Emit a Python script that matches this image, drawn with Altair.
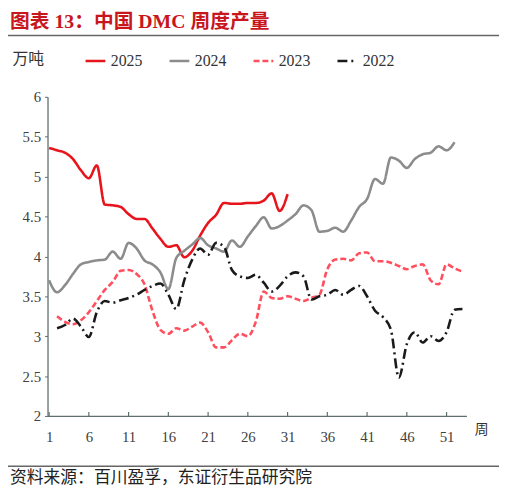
import altair as alt
import pandas as pd

# ---- data ----
years = ["2025", "2024", "2023", "2022"]
colors = ["#E8141C", "#8C8C8C", "#FF4F5E", "#1A1A1A"]
dashes = [[1, 0], [1, 0], [6, 3], [10, 4, 2, 4]]

weeks_2025 = list(range(1, 32))
v2025 = [5.36, 5.33, 5.30, 5.22, 5.08, 4.98, 5.14, 4.65, 4.64, 4.62,
         4.53, 4.47, 4.47, 4.35, 4.22, 4.12, 4.14, 3.99, 4.07, 4.26,
         4.42, 4.52, 4.67, 4.66, 4.66, 4.67, 4.67, 4.70, 4.79, 4.57,
         4.78]

weeks_2024 = list(range(1, 53))
v2024 = [3.70, 3.55, 3.64, 3.78, 3.90, 3.93, 3.95, 3.96, 4.06, 3.97,
         4.17, 4.10, 3.95, 3.90, 3.80, 3.59, 3.98, 4.07, 4.15, 4.23,
         4.14, 4.10, 4.06, 4.20, 4.12, 4.25, 4.38, 4.49, 4.35, 4.38,
         4.45, 4.53, 4.64, 4.58, 4.31, 4.32, 4.36, 4.31, 4.45, 4.62,
         4.72, 4.97, 4.91, 5.24, 5.20, 5.11, 5.22, 5.28, 5.30, 5.38,
         5.33, 5.43]

weeks_2023 = list(range(2, 54))
v2023 = [3.25, 3.18, 3.15, 3.20, 3.30, 3.44, 3.58, 3.68, 3.82, 3.83,
         3.78, 3.65, 3.32, 3.08, 3.03, 3.10, 3.07, 3.12, 3.17, 3.05,
         2.86, 2.86, 2.95, 3.03, 3.00, 3.18, 3.56, 3.48, 3.47, 3.50,
         3.47, 3.44, 3.48, 3.52, 3.84, 3.96, 3.97, 3.95, 4.04, 4.05,
         3.94, 3.94, 3.92, 3.88, 3.84, 3.88, 3.90, 3.70, 3.65, 3.90,
         3.85, 3.81]

weeks_2022 = list(range(2, 54))
v2022 = [3.10, 3.14, 3.22, 3.12, 2.99, 3.30, 3.44, 3.42, 3.45, 3.48,
         3.52, 3.58, 3.63, 3.66, 3.52, 3.34, 3.70, 3.96, 4.10, 4.02,
         4.17, 4.12, 3.83, 3.75, 3.73, 3.77, 3.67, 3.56, 3.63, 3.75,
         3.80, 3.75, 3.46, 3.50, 3.52, 3.58, 3.52, 3.58, 3.63, 3.50,
         3.32, 3.24, 3.08, 2.48, 2.90, 3.05, 2.92, 3.00, 2.94, 3.05,
         3.33, 3.34]

x_ticks = [1, 6, 11, 16, 21, 26, 31, 36, 41, 46, 51]
y_ticks = [2, 2.5, 3, 3.5, 4, 4.5, 5, 5.5, 6]

title_text = "图表 13：中国 DMC 周度产量"
source_text = "资料来源：百川盈孚，东证衍生品研究院"

# ---- build table ----
rows = []
for yr, wks, vals in [("2025", weeks_2025, v2025), ("2024", weeks_2024, v2024),
                      ("2023", weeks_2023, v2023), ("2022", weeks_2022, v2022)]:
    for w, v in zip(wks, vals):
        rows.append({"year": yr, "week": w, "value": v})
df = pd.DataFrame(rows)

SERIF = "Liberation Serif, Noto Sans CJK SC"
CJK = "Noto Sans CJK SC"
AXIS_COLOR = "#5E6E6E"

xscale = alt.Scale(domain=[0.8, 53.5], nice=False, zero=False)
yscale = alt.Scale(domain=[2, 6], nice=False, zero=False)

legend = alt.Legend(
    title=None, orient="none", legendX=37, legendY=-48,
    direction="horizontal", columns=4, symbolType="stroke",
    symbolSize=400, symbolStrokeWidth=2.6, labelFont=SERIF,
    labelFontSize=16, labelColor="#333333", labelOffset=4,
    columnPadding=22,
)

lines = alt.Chart(df).mark_line(strokeWidth=2.6, interpolate="monotone").encode(
    x=alt.X("week:Q", scale=xscale,
            axis=alt.Axis(values=x_ticks, title="周", titleAngle=0,
                          titleX=439, titleY=14, titleAlign="center",
                          titleBaseline="middle", titleFont=CJK,
                          titleFontSize=14, titleFontWeight="normal",
                          titleColor="#333333", ticks=False, grid=False,
                          domainColor=AXIS_COLOR, domainWidth=1.3,
                          labelFont=SERIF, labelFontSize=15,
                          labelColor="#404040", labelPadding=14)),
    y=alt.Y("value:Q", scale=yscale,
            axis=alt.Axis(values=y_ticks, format="~g", title="万吨",
                          titleAngle=0, titleX=-36, titleY=-39,
                          titleAlign="left", titleBaseline="middle",
                          titleFont=CJK, titleFontSize=16,
                          titleFontWeight="normal", titleColor="#333333",
                          tickSize=3, tickColor=AXIS_COLOR,
                          domainColor=AXIS_COLOR, domainWidth=1.3,
                          grid=False, labelFont=SERIF, labelFontSize=15,
                          labelColor="#404040", labelPadding=4)),
    color=alt.Color("year:N", scale=alt.Scale(domain=years, range=colors),
                    legend=legend),
    strokeDash=alt.StrokeDash("year:N", scale=alt.Scale(domain=years, range=dashes),
                              legend=legend),
)

tick_df = pd.DataFrame({"week": x_ticks})
xticks = alt.Chart(tick_df).mark_rule(color=AXIS_COLOR, strokeWidth=1.2).encode(
    x=alt.X("week:Q", scale=xscale),
    y=alt.value(323), y2=alt.value(319),
)

one = pd.DataFrame({"t": [title_text], "s": [source_text]})
title = alt.Chart(one).mark_text(
    align="left", baseline="middle", font=SERIF, fontSize=20,
    color="#C8161D", fontWeight="bold",
).encode(text="t:N", x=alt.value(-38), y=alt.value(-76))

top_rule = alt.Chart(one).mark_rule(color="#666666", strokeWidth=1.5).encode(
    x=alt.value(-40), x2=alt.value(457), y=alt.value(-62))
bottom_rule = alt.Chart(one).mark_rule(color="#666666", strokeWidth=1.5).encode(
    x=alt.value(-40), x2=alt.value(457), y=alt.value(374))

source = alt.Chart(one).mark_text(
    align="left", baseline="middle", font=CJK, fontSize=17, color="#222222",
).encode(text="s:N", x=alt.value(-38), y=alt.value(386))

chart = alt.layer(lines, xticks, title, top_rule, bottom_rule, source).properties(
    width=424, height=323,
    autosize=alt.AutoSizeParams(type="none"),
    padding={"left": 40, "top": 87, "right": 36, "bottom": 72},
).configure_view(stroke=None)

chart.save("out.html", embed_options={"renderer": "svg", "actions": False})
